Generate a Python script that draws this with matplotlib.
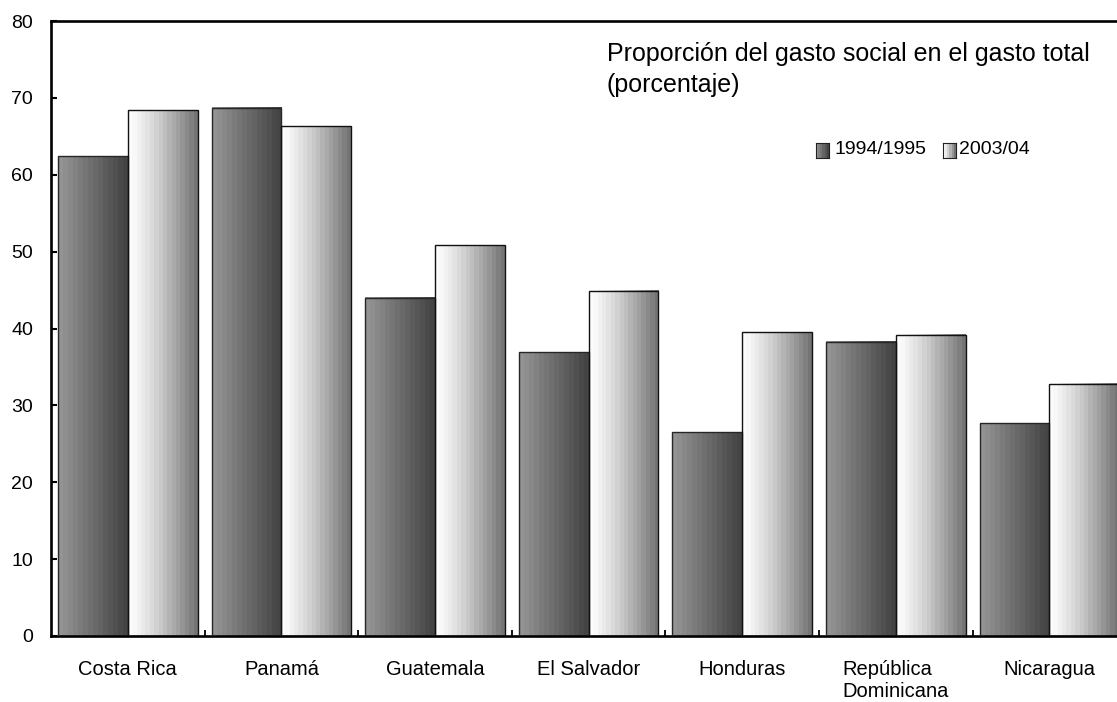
import numpy as np
import matplotlib
matplotlib.use('Agg')
import matplotlib.pyplot as plt

plt.rcParams['font.family'] = ['Liberation Sans', 'DejaVu Sans']

# data
countries = ['Costa Rica', 'Panamá', 'Guatemala', 'El Salvador', 'Honduras',
             'República\nDominicana', 'Nicaragua']
series_names = ['1994/1995', '2003/04']
gasto_1994 = [62.4, 68.7, 44.0, 36.9, 26.5, 38.3, 27.7]
gasto_2003 = [68.4, 66.3, 50.8, 44.9, 39.5, 39.2, 32.8]
title = 'Proporción del gasto social en el gasto total\n(porcentaje)'
yticks = [0, 10, 20, 30, 40, 50, 60, 70, 80]

W, H = 1117, 702
DPI = 100


def dark_grad(n=14):
    t = np.linspace(0, 1, n)
    return (148 - 80 * t)


def light_grad(n=16):
    t = np.linspace(0, 1, n)
    return (252 - 136 * t ** 1.25)


def draw_grad(ax, x0, x1, y0, y1, vals, **kw):
    ax.imshow(vals[np.newaxis, :], extent=(x0, x1, y0, y1), cmap='gray',
              vmin=0, vmax=255, aspect='auto', interpolation='nearest', **kw)


fig = plt.figure(figsize=(W / DPI, H / DPI), dpi=DPI)
ax_w = 7 * 153.6 / W
ax = fig.add_axes([51 / W, 66 / H, ax_w, 615 / H])

bar_w = 0.455
x = np.arange(len(countries))
for i in range(len(countries)):
    left1 = x[i] + 0.045
    left2 = x[i] + 0.5
    draw_grad(ax, left1, left1 + bar_w, 0, gasto_1994[i], dark_grad())
    draw_grad(ax, left2, left2 + bar_w, 0, gasto_2003[i], light_grad())

ax.bar(x + 0.045, gasto_1994, width=bar_w, align='edge', fill=False,
       edgecolor='#262626', linewidth=1.0, zorder=3)
ax.bar(x + 0.5, gasto_2003, width=bar_w, align='edge', fill=False,
       edgecolor='#111111', linewidth=1.0, zorder=3)

ax.set_xlim(0, len(countries))
ax.set_ylim(0, 80)
ax.set_yticks(yticks)
ax.set_xticks(x + 0.5)
ax.set_xticklabels(countries)
for t in ax.get_xticklabels():
    t.set_multialignment('left')
ax.set_xticks(np.arange(1, len(countries)), minor=True)

ax.tick_params(axis='y', direction='in', length=4, width=1.5, pad=13,
               labelsize=14)
ax.tick_params(axis='x', which='major', length=0, pad=17, labelsize=14.5)
ax.tick_params(axis='x', which='minor', direction='in', length=4, width=1.3)

for s in ['left', 'bottom', 'top']:
    ax.spines[s].set_linewidth(1.9)
ax.spines['right'].set_visible(False)

fig.text(607 / W, 1 - 42 / H, title, fontsize=18, ha='left', va='top',
         linespacing=1.35)

# legend
legend_x = [816, 943]
text_x = [834, 959]
grads = [dark_grad(6), light_grad(6)]
for k in range(2):
    lax = fig.add_axes([legend_x[k] / W, 1 - 158 / H, 13 / W, 15 / H])
    lax.imshow(grads[k][np.newaxis, :], cmap='gray', vmin=0, vmax=255,
               aspect='auto', interpolation='nearest')
    lax.set_xticks([])
    lax.set_yticks([])
    for s in lax.spines.values():
        s.set_linewidth(0.8)
        s.set_color('#222222')
    fig.text(text_x[k] / W, 1 - 150 / H, series_names[k], fontsize=14,
             ha='left', va='center')

fig.savefig('out.png', dpi=DPI)
